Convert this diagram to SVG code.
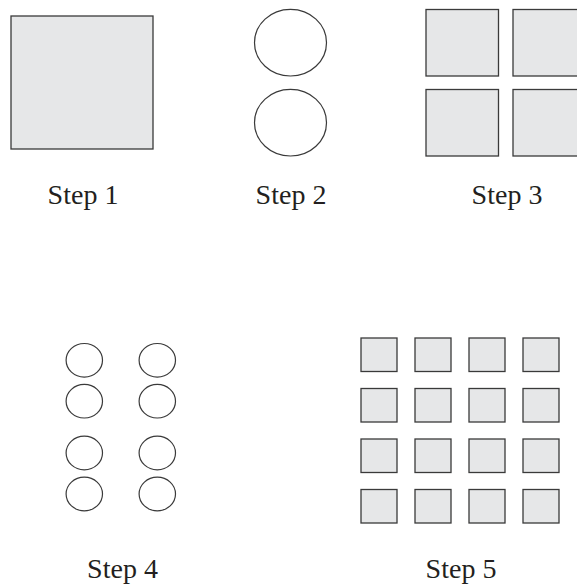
<svg xmlns="http://www.w3.org/2000/svg" width="577" height="585" viewBox="0 0 577 585">
<style>
.sq{fill:#e6e7e8;stroke:#3a3a3a;stroke-width:1.3}
.ci{fill:#ffffff;stroke:#3a3a3a;stroke-width:1.2}
.lb{font-family:"Liberation Serif","Times New Roman",serif;font-size:28px;fill:#231f20;text-anchor:middle}
</style>
<rect width="577" height="585" fill="#ffffff"/>
<g id="step1">
<rect class="sq" x="11" y="16" width="142" height="133"/>
<text class="lb" x="83" y="204">Step 1</text>
</g>
<g id="step2">
<ellipse class="ci" cx="290.5" cy="42.7" rx="36" ry="33.3"/>
<ellipse class="ci" cx="290.5" cy="122.7" rx="36" ry="33.3"/>
<text class="lb" x="291" y="204">Step 2</text>
</g>
<g id="step3">
<rect class="sq" x="426" y="9.5" width="72.5" height="66.5"/>
<rect class="sq" x="513" y="9.5" width="72.5" height="66.5"/>
<rect class="sq" x="426" y="89.5" width="72.5" height="66.5"/>
<rect class="sq" x="513" y="89.5" width="72.5" height="66.5"/>
<text class="lb" x="507" y="204">Step 3</text>
</g>
<g id="step4">
<ellipse class="ci" cx="84.3" cy="360.3" rx="18.2" ry="16.8"/>
<ellipse class="ci" cx="157.3" cy="360.3" rx="18.2" ry="16.8"/>
<ellipse class="ci" cx="84.3" cy="401.2" rx="18.2" ry="16.8"/>
<ellipse class="ci" cx="157.3" cy="401.2" rx="18.2" ry="16.8"/>
<ellipse class="ci" cx="84.3" cy="453" rx="18.2" ry="16.8"/>
<ellipse class="ci" cx="157.3" cy="453" rx="18.2" ry="16.8"/>
<ellipse class="ci" cx="84.3" cy="494" rx="18.2" ry="16.8"/>
<ellipse class="ci" cx="157.3" cy="494" rx="18.2" ry="16.8"/>
<text class="lb" x="122.5" y="577.5">Step 4</text>
</g>
<g id="step5">
<rect class="sq" x="361" y="338" width="36" height="33.5"/>
<rect class="sq" x="415" y="338" width="36" height="33.5"/>
<rect class="sq" x="469" y="338" width="36" height="33.5"/>
<rect class="sq" x="523" y="338" width="36" height="33.5"/>
<rect class="sq" x="361" y="388.5" width="36" height="33.5"/>
<rect class="sq" x="415" y="388.5" width="36" height="33.5"/>
<rect class="sq" x="469" y="388.5" width="36" height="33.5"/>
<rect class="sq" x="523" y="388.5" width="36" height="33.5"/>
<rect class="sq" x="361" y="439" width="36" height="33.5"/>
<rect class="sq" x="415" y="439" width="36" height="33.5"/>
<rect class="sq" x="469" y="439" width="36" height="33.5"/>
<rect class="sq" x="523" y="439" width="36" height="33.5"/>
<rect class="sq" x="361" y="489.5" width="36" height="33.5"/>
<rect class="sq" x="415" y="489.5" width="36" height="33.5"/>
<rect class="sq" x="469" y="489.5" width="36" height="33.5"/>
<rect class="sq" x="523" y="489.5" width="36" height="33.5"/>
<text class="lb" x="461" y="577.5">Step 5</text>
</g>
<g id="connectors"/>
</svg>
